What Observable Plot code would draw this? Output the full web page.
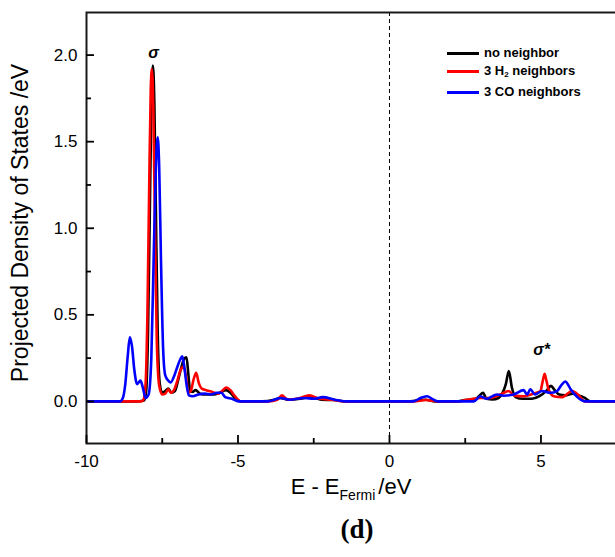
<!DOCTYPE html>
<html>
<head>
<meta charset="utf-8">
<script src="https://cdn.jsdelivr.net/npm/d3@7"></script>
<script src="https://cdn.jsdelivr.net/npm/@observablehq/plot@0.6"></script>
<style>
  html, body { margin: 0; padding: 0; background: #fff; }
  #wrap { position: relative; width: 615px; height: 557px; overflow: hidden; }
  .leg { position: absolute; font: bold 13px "Liberation Sans", Arial, sans-serif; color: #000; white-space: nowrap; }
  .leg .sw { position: absolute; left: 0; width: 32px; height: 0; border-top: 3px solid; }
  .leg .lab { position: absolute; left: 37px; line-height: 16px; }
  .leg sub { font-size: 8px; vertical-align: -2px; }
</style>
</head>
<body>
<div id="wrap"></div>
<script>
// ---- data (E - E_Fermi in eV, projected DOS in states/eV) ----
const seriesNames = ["no neighbor", "3 H2 neighbors", "3 CO neighbors"];
const seriesColors = ["#000000", "#ff0000", "#0000ff"];

const noNeighbor = [[-10,0],[-8.4,0],[-8.1,0.005],[-8.03,0.06],[-7.97,0.4],[-7.91,1.1],[-7.86,1.7],[-7.81,1.94],[-7.76,1.72],[-7.71,1.1],[-7.65,0.4],[-7.58,0.1],[-7.5,0.05],[-7.4,0.06],[-7.3,0.075],[-7.2,0.05],[-7.08,0.06],[-6.98,0.12],[-6.88,0.19],[-6.78,0.245],[-6.7,0.255],[-6.64,0.16],[-6.58,0.06],[-6.5,0.055],[-6.4,0.065],[-6.25,0.045],[-6.05,0.04],[-5.8,0.04],[-5.6,0.05],[-5.4,0.065],[-5.25,0.05],[-5.1,0.02],[-4.9,0],[-4.2,0],[-3.8,0.01],[-3.6,0.02],[-3.35,0.01],[-2.95,0.015],[-2.6,0.025],[-2.25,0.01],[-1.85,0.008],[-1.4,0],[0.6,0],[1.0,0.008],[1.2,0.01],[1.5,0],[2.2,0],[2.5,0.008],[2.8,0.01],[2.95,0.03],[3.09,0.05],[3.2,0.015],[3.4,0.012],[3.6,0.02],[3.72,0.045],[3.84,0.1],[3.94,0.175],[4.04,0.08],[4.16,0.025],[4.4,0.015],[4.7,0.015],[4.95,0.03],[5.2,0.065],[5.33,0.09],[5.45,0.065],[5.6,0.04],[5.8,0.035],[6.05,0.045],[6.25,0.035],[6.45,0.02],[6.63,0],[7.46,0]];

const h2Neighbors = [[-10,0],[-8.2,0],[-8.12,0.01],[-8.05,0.1],[-7.99,0.5],[-7.93,1.25],[-7.88,1.8],[-7.84,1.92],[-7.79,1.65],[-7.74,1.0],[-7.68,0.35],[-7.6,0.09],[-7.5,0.04],[-7.4,0.045],[-7.3,0.07],[-7.22,0.05],[-7.1,0.07],[-7.0,0.12],[-6.9,0.18],[-6.8,0.2],[-6.72,0.15],[-6.64,0.05],[-6.56,0.06],[-6.46,0.13],[-6.38,0.165],[-6.3,0.11],[-6.2,0.075],[-6.05,0.065],[-5.85,0.055],[-5.65,0.045],[-5.5,0.065],[-5.39,0.08],[-5.25,0.065],[-5.1,0.03],[-4.9,0],[-4.0,0],[-3.7,0.01],[-3.55,0.035],[-3.35,0.01],[-2.95,0.02],[-2.65,0.035],[-2.3,0.015],[-1.9,0.01],[-1.5,0],[0.8,0],[1.2,0.008],[1.6,0],[2.3,0],[2.5,0.008],[3.0,0.02],[3.3,0.02],[3.66,0.04],[3.94,0.06],[4.1,0.035],[4.43,0.03],[4.76,0.045],[4.98,0.06],[5.05,0.11],[5.12,0.16],[5.18,0.12],[5.25,0.07],[5.42,0.03],[5.7,0.025],[6.03,0.06],[6.25,0.035],[6.44,0],[7.46,0]];

const coNeighbors = [[-10,0],[-8.9,0],[-8.8,0.02],[-8.72,0.1],[-8.64,0.26],[-8.57,0.37],[-8.5,0.32],[-8.42,0.18],[-8.33,0.1],[-8.22,0.12],[-8.14,0.08],[-8.05,0.02],[-7.95,0.04],[-7.86,0.25],[-7.78,0.85],[-7.71,1.35],[-7.65,1.525],[-7.6,1.35],[-7.54,0.8],[-7.47,0.3],[-7.4,0.15],[-7.3,0.12],[-7.22,0.11],[-7.1,0.15],[-7.0,0.2],[-6.9,0.245],[-6.84,0.26],[-6.78,0.21],[-6.7,0.1],[-6.62,0.035],[-6.5,0.03],[-6.3,0.04],[-6.1,0.045],[-5.9,0.04],[-5.7,0.05],[-5.55,0.05],[-5.42,0.025],[-5.2,0.015],[-4.95,0],[-4.0,0],[-3.8,0.01],[-3.6,0.02],[-3.3,0.01],[-2.8,0.02],[-2.5,0.015],[-2.2,0.025],[-1.8,0.01],[-1.4,0],[0.8,0],[1.02,0.02],[1.24,0.03],[1.41,0.015],[1.6,0],[2.78,0],[3.0,0.03],[3.2,0.015],[3.55,0.04],[3.77,0.033],[4.1,0.04],[4.43,0.065],[4.54,0.04],[4.65,0.07],[4.8,0.04],[5.04,0.06],[5.31,0.05],[5.53,0.06],[5.7,0.1],[5.81,0.115],[5.9,0.095],[5.98,0.07],[6.2,0.025],[6.36,0.005],[6.5,0],[7.46,0]];

const xMajorTicks = [-10, -5, 0, 5];
const xMinorTicks = [-7.5, -2.5, 2.5];
const yMajorTicks = [0, 0.5, 1.0, 1.5, 2.0];
const yMinorTicks = [0.25, 0.75, 1.25, 1.75];
const annotations = [{E: -7.79, dos: 2.01, label: "σ"}, {E: 5.02, dos: 0.295, label: "σ*"}];
const fermiLevel = [0];

// ---- build table ----
const table = [];
[noNeighbor, h2Neighbors, coNeighbors].forEach((s, i) => {
  s.forEach(([E, dos]) => table.push({series: seriesNames[i], E, dos}));
});

const font = "'Liberation Sans', Arial, sans-serif";
const X_TITLE = "E - EFermi/eV";

const chart = Plot.plot({
  width: 615,
  height: 557,
  marginLeft: 86,
  marginRight: 0,
  marginTop: 12,
  marginBottom: 114,
  x: {domain: [-10, 7.46]},
  y: {domain: [-0.243, 2.246]},
  color: {domain: seriesNames, range: seriesColors},
  style: {fontFamily: font, fontSize: "17px", color: "#000", background: "#fff", overflow: "visible"},
  marks: [
    Plot.ruleX(fermiLevel, {stroke: "#000", strokeWidth: 1, strokeDasharray: "4,3"}),
    Plot.line(table, {x: "E", y: "dos", z: "series", stroke: "series", strokeWidth: 2.6, curve: "monotone-x", clip: true}),
    Plot.frame({stroke: "#1a1a1a", strokeWidth: 2, insetRight: -5}),
    Plot.axisX({ticks: xMajorTicks, tickSize: -8, tickPadding: 19, strokeWidth: 1.8, tickFormat: d => String(d), label: null, fontSize: 17}),
    Plot.axisX({ticks: xMinorTicks, tickSize: -5, strokeWidth: 1.8, tickFormat: () => "", label: null}),
    Plot.axisY({ticks: yMajorTicks, tickSize: -8, tickPadding: 17, strokeWidth: 1.8, tickFormat: d3.format(".1f"), label: null, fontSize: 17}),
    Plot.axisY({ticks: yMinorTicks, tickSize: -5, strokeWidth: 1.8, tickFormat: () => "", label: null}),
    Plot.text(["Projected Density of States /eV"], {frameAnchor: "left", textAnchor: "middle", rotate: -90, dx: -66, dy: -5, fontSize: 23, fill: "#000"}),
    Plot.text([X_TITLE], {frameAnchor: "bottom", textAnchor: "middle", dy: 50, fontSize: 22, fill: "#000"}),
    Plot.text(["(d)"], {frameAnchor: "bottom", textAnchor: "middle", dx: 6, dy: 94, fontSize: 27, fontWeight: "bold", fontFamily: "'Liberation Serif', 'Times New Roman', serif", fill: "#000"}),
    Plot.text(annotations, {x: "E", y: "dos", text: "label", fontSize: 16, fontWeight: "bold", fontStyle: "italic", fill: "#000"})
  ]
});

// x title with subscript
d3.select(chart).selectAll("text").filter(function() { return this.textContent === X_TITLE; }).each(function() {
  const t = d3.select(this);
  t.text(null);
  t.append("tspan").text("E - E");
  t.append("tspan").attr("font-size", 14).attr("dy", 6).text("Fermi");
  t.append("tspan").attr("dy", -6).attr("dx", 3).text("/eV");
});

const wrap = document.getElementById("wrap");
wrap.appendChild(chart);

// legend inside the plot (top right)
const legendRows = [
  {html: "no neighbor", color: seriesColors[0], top: 53},
  {html: "3 H<sub>2</sub> neighbors", color: seriesColors[1], top: 71},
  {html: "3 CO neighbors", color: seriesColors[2], top: 92}
];
legendRows.forEach(r => {
  const d = document.createElement("div");
  d.className = "leg";
  d.style.left = "447px";
  d.style.top = (r.top - 8) + "px";
  d.innerHTML = `<span class="sw" style="border-color:${r.color};top:7px"></span><span class="lab">${r.html}</span>`;
  wrap.appendChild(d);
});
</script>
</body>
</html>
